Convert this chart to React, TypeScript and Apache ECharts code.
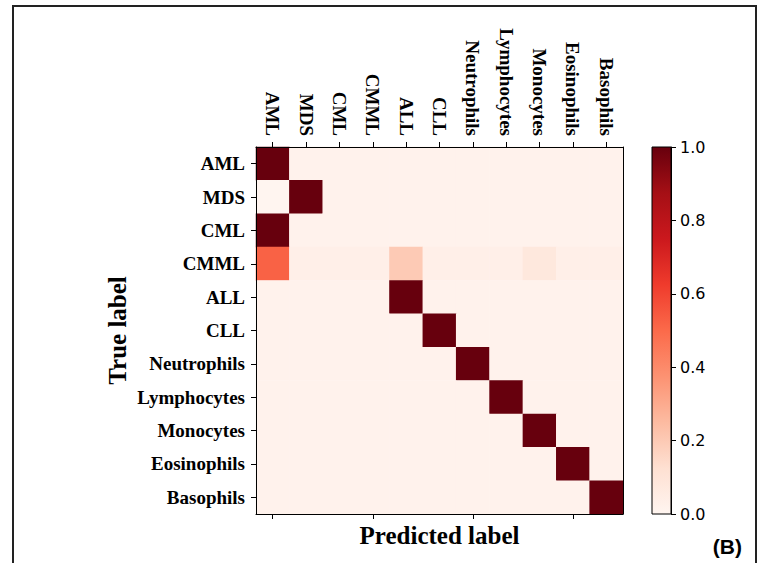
import React, { useEffect, useRef } from "react";
import * as echarts from "echarts";

const classLabels = ["AML", "MDS", "CML", "CMML", "ALL", "CLL", "Neutrophils", "Lymphocytes", "Monocytes", "Eosinophils", "Basophils"];

// Rows = true label, columns = predicted label (normalised)
const rowAML = [1.0, 0.015, 0.015, 0.015, 0.015, 0.015, 0.015, 0.015, 0.015, 0.015, 0.015];
const rowMDS = [0.0, 1.0, 0.015, 0.015, 0.015, 0.015, 0.015, 0.015, 0.015, 0.015, 0.015];
const rowCML = [1.0, 0.015, 0.015, 0.015, 0.015, 0.015, 0.015, 0.015, 0.015, 0.015, 0.015];
const rowCMML = [0.52, 0.035, 0.035, 0.035, 0.2, 0.035, 0.035, 0.035, 0.08, 0.035, 0.035];
const rowALL = [0.015, 0.015, 0.015, 0.015, 1.0, 0.015, 0.015, 0.015, 0.015, 0.015, 0.015];
const rowCLL = [0.015, 0.015, 0.015, 0.015, 0.015, 1.0, 0.015, 0.015, 0.015, 0.015, 0.015];
const rowNeutrophils = [0.015, 0.015, 0.015, 0.015, 0.015, 0.015, 1.0, 0.015, 0.015, 0.015, 0.015];
const rowLymphocytes = [0.015, 0.015, 0.015, 0.015, 0.015, 0.015, 0.015, 1.0, 0.015, 0.015, 0.015];
const rowMonocytes = [0.015, 0.015, 0.015, 0.015, 0.015, 0.015, 0.015, 0.015, 1.0, 0.015, 0.015];
const rowEosinophils = [0.015, 0.015, 0.015, 0.015, 0.015, 0.015, 0.015, 0.015, 0.015, 1.0, 0.015];
const rowBasophils = [0.015, 0.015, 0.015, 0.015, 0.015, 0.015, 0.015, 0.015, 0.015, 0.015, 1.0];

const matrixRows = [rowAML, rowMDS, rowCML, rowCMML, rowALL, rowCLL, rowNeutrophils, rowLymphocytes, rowMonocytes, rowEosinophils, rowBasophils];

const colorbarTicks = [0, 0.2, 0.4, 0.6, 0.8, 1.0];

// matplotlib "Reds"
const redsPalette = ["#fff5f0", "#fee0d2", "#fcbba1", "#fc9272", "#fb6a4a", "#ef3b2c", "#cb181d", "#a50f15", "#67000d"];

const serif = "Liberation Serif";

export default function App() {
  const ref = useRef<HTMLDivElement>(null);

  useEffect(() => {
    if (!ref.current) return;
    const chart = echarts.init(ref.current, null, { renderer: "svg" });

    const data: [number, number, number][] = [];
    matrixRows.forEach((row, yi) => {
      row.forEach((v, xi) => data.push([xi, yi, v]));
    });

    const labelStyle = { fontFamily: serif, fontWeight: "bold" as const, fontSize: 19, color: "#000" };
    const line = { show: true, lineStyle: { color: "#000", width: 1 } };
    const tick = { show: true, alignWithLabel: true, length: 5, lineStyle: { color: "#000", width: 1 } };

    const gx = 256, gy = 147, gw = 367, gh = 367;
    const cbx = 652, cbw = 19;

    chart.setOption({
      animation: false,
      backgroundColor: "#fff",
      grid: [
        { left: gx, top: gy, width: gw, height: gh },
        { left: cbx, top: gy, width: cbw, height: gh },
      ],
      xAxis: [
        {
          type: "category", data: classLabels, gridIndex: 0, position: "top", z: 10,
          axisLine: line, axisTick: tick, splitLine: { show: false },
          axisLabel: { ...labelStyle, rotate: 90, margin: 11, interval: 0 },
        },
        {
          type: "category", data: classLabels, gridIndex: 0, position: "bottom", z: 10,
          axisLine: line, axisTick: tick, splitLine: { show: false },
          axisLabel: { show: false },
          name: "Predicted label", nameLocation: "middle", nameGap: 9,
          nameTextStyle: { fontFamily: serif, fontWeight: "bold", fontSize: 25, color: "#000", verticalAlign: "top" },
        },
        {
          type: "category", data: ["cb"], gridIndex: 1, show: false,
        },
      ],
      yAxis: [
        {
          type: "category", data: classLabels, gridIndex: 0, position: "left", inverse: true, z: 10,
          axisLine: line, axisTick: tick, splitLine: { show: false },
          axisLabel: { ...labelStyle, margin: 11, interval: 0 },
          name: "True label", nameLocation: "middle", nameRotate: 90, nameGap: 126,
          nameTextStyle: { fontFamily: serif, fontWeight: "bold", fontSize: 25, color: "#000" },
        },
        {
          type: "category", data: classLabels, gridIndex: 0, position: "right", inverse: true, z: 10,
          axisLine: line, axisTick: { show: false }, axisLabel: { show: false }, splitLine: { show: false },
        },
        {
          type: "value", gridIndex: 1, position: "right", min: 0, max: 1, interval: 0.2, z: 10,
          axisLine: line,
          axisTick: { show: true, length: 5, lineStyle: { color: "#000", width: 1 } },
          splitLine: { show: false },
          axisLabel: {
            fontFamily: "DejaVu Sans", fontSize: 16, color: "#000", margin: 9,
            formatter: (v: number) => (colorbarTicks.some((t) => Math.abs(t - v) < 1e-9) ? v.toFixed(1) : ""),
          },
        },
      ],
      visualMap: {
        type: "continuous", min: 0, max: 1, show: false, seriesIndex: 0,
        inRange: { color: redsPalette },
      },
      series: [
        {
          type: "heatmap", xAxisIndex: 0, yAxisIndex: 0, data,
          itemStyle: { borderWidth: 0 },
          emphasis: { disabled: true },
        },
      ],
      graphic: [
        {
          type: "rect", z: 1,
          shape: { x: cbx, y: gy, width: cbw, height: gh },
          style: {
            fill: new echarts.graphic.LinearGradient(0, 1, 0, 0,
              redsPalette.map((c, i) => ({ offset: i / (redsPalette.length - 1), color: c }))),
            stroke: "#000", lineWidth: 1,
          },
        },
        {
          type: "rect", z: 1, silent: true,
          shape: { x: 13, y: 6, width: 743, height: 620 },
          style: { fill: "none", stroke: "#222", lineWidth: 2 },
        },
        {
          type: "text", z: 5, x: 742, y: 546,
          style: { text: "(B)", fontFamily: "Liberation Sans", fontWeight: "bold", fontSize: 21, fill: "#000", align: "right", verticalAlign: "middle" },
        },
      ],
    });

    return () => chart.dispose();
  }, []);

  return <div ref={ref} style={{ position: "fixed", left: 0, top: 0, width: 763, height: 563 }} />;
}
